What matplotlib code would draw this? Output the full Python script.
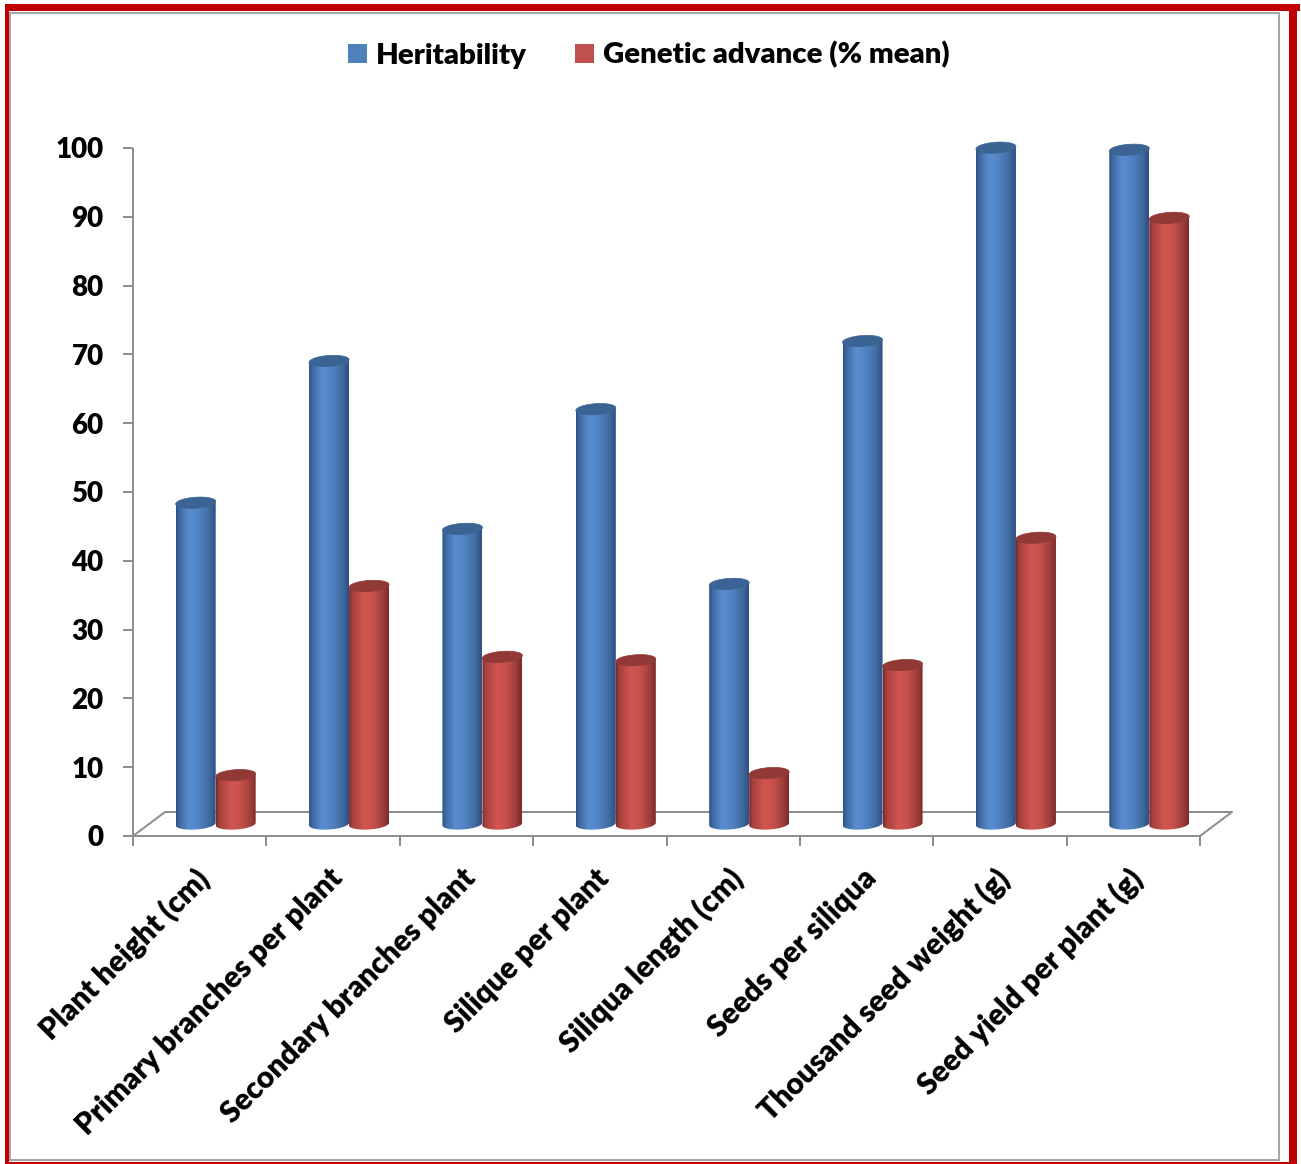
import numpy as np
import matplotlib
matplotlib.use("Agg")
import matplotlib.pyplot as plt
from matplotlib.path import Path
from matplotlib.patches import PathPatch, Patch, Rectangle
from matplotlib.colors import LinearSegmentedColormap
from matplotlib.transforms import ScaledTranslation

# ---- data ----
traits = [
    "Plant height (cm)",
    "Primary branches per plant",
    "Secondary branches plant",
    "Silique per plant",
    "Siliqua length (cm)",
    "Seeds per siliqua",
    "Thousand seed weight (g)",
    "Seed yield per plant (g)",
]
heritability = [46.7, 67.3, 42.9, 60.3, 34.9, 70.2, 98.3, 98.0]
genetic_advance = [7.1, 34.6, 24.3, 23.8, 7.4, 23.1, 41.6, 88.1]
yticks = list(range(0, 101, 10))

# ---- figure ----
W, H, DPI = 1301, 1164, 100
fig = plt.figure(figsize=(W / DPI, H / DPI), dpi=DPI)
plt.rcParams["font.family"] = ["Lato", "DejaVu Sans"]
WEIGHT = "heavy"

# plotting area: front floor edge 133..1200 px, value 0 at y=836 px, 100 at y=148 px
x_l, x_r, y_b, y_t = 133, 1200, 836, 148
ax = fig.add_axes([x_l / W, 1 - y_b / H, (x_r - x_l) / W, (y_b - y_t) / H])
n = len(traits)
ax.set_xlim(0, n)
ax.set_ylim(0, 100)
for s in ax.spines.values():
    s.set_visible(False)

px = 100 / (y_b - y_t)          # value units per pixel
ux = n / (x_r - x_l)            # category units per pixel

axis_col = "#8e8e8e"
lw_axis = 2 * 72 / DPI

# 3-D frame: depth offset of the back floor edge
dx, dy = 32 * ux, 24 * px
frame = dict(color=axis_col, lw=lw_axis, clip_on=False, zorder=1, solid_capstyle="butt")
ax.plot([0, n], [0, 0], **frame)
ax.plot([0, 0], [0, 100], **frame)
ax.plot([0, dx, n + dx, n], [0, dy, dy, 0], **frame)

# ticks
ax.set_yticks(yticks)
ax.set_yticklabels([str(v) for v in yticks], fontsize=20, fontweight=WEIGHT)
ax.tick_params(axis="y", length=10 * 72 / DPI, width=lw_axis, color=axis_col, pad=14)
ax.set_xticks(np.arange(n) + 0.5)
ax.set_xticks(np.arange(n + 1), minor=True)
ax.set_xticklabels(traits, fontsize=21.5, fontweight=WEIGHT, rotation=45,
                   ha="right", va="top", rotation_mode="anchor")
ax.tick_params(axis="x", which="major", length=0, pad=20)
ax.tick_params(axis="x", which="minor", length=10 * 72 / DPI, width=lw_axis, color=axis_col)
nudge = ScaledTranslation(-5 / DPI, 0, fig.dpi_scale_trans)
for lab in ax.get_xticklabels():
    lab.set_transform(lab.get_transform() + nudge)

# ---- cylinders ----
blue_stops = [(0.0, "#2c4f7d"), (0.08, "#3d68a0"), (0.33, "#5a8ed0"),
              (0.55, "#5385c6"), (0.85, "#3f6a9e"), (1.0, "#2d4f7c")]
red_stops = [(0.0, "#782725"), (0.08, "#a53f3c"), (0.38, "#d15650"),
             (0.6, "#c8514c"), (0.85, "#a03e3b"), (1.0, "#7b2a28")]
cmap_b = LinearSegmentedColormap.from_list("cyl_b", blue_stops)
cmap_r = LinearSegmentedColormap.from_list("cyl_r", red_stops)
cap_b, cap_r = "#3b6494", "#913936"

bar_w = 40 * ux
base = dy / 2                    # bars stand midway into the floor depth
shift = dx / 2
ell_h = 11 * px                  # visible height of the elliptic caps
tilt = 1.3 * px
grad = np.linspace(0, 1, 256).reshape(1, -1)
t = np.linspace(0, 2 * np.pi, 120)


def ellipse_pts(cx, cy, a, b, tt):
    return np.column_stack([cx + a * np.cos(tt), cy + b * np.sin(tt) + tilt * np.cos(tt)])


def cylinders(xc, vals, cmap, cap, z):
    rects = ax.bar(xc, vals, width=bar_w, bottom=base, color="none",
                   edgecolor="none", zorder=z)
    a, b = bar_w / 2, ell_h / 2
    for r in rects:
        x0, w = r.get_x(), r.get_width()
        y0, top = r.get_y(), r.get_y() + r.get_height()
        cx = x0 + w / 2
        # body: rectangle with a rounded lower edge
        tb = np.linspace(np.pi, 2 * np.pi, 60)
        bottom = ellipse_pts(cx, y0, a, b, tb)
        verts = np.vstack([[x0, top - tilt], bottom, [x0 + w, top + tilt], [x0, top - tilt]])
        body = PathPatch(Path(verts, closed=True), facecolor="none", edgecolor="none",
                         zorder=z, clip_on=False)
        ax.add_patch(body)
        im = ax.imshow(grad, cmap=cmap, extent=(x0, x0 + w, y0 - b - tilt, top + tilt),
                       aspect="auto", zorder=z, interpolation="bilinear")
        im.set_clip_box(fig.bbox)
        im.set_clip_path(body)
        # top cap
        capv = ellipse_pts(cx, top, a, b, t)
        ax.add_patch(PathPatch(Path(capv, closed=True), facecolor=cap,
                               edgecolor=cap, lw=0.5, zorder=z + 0.1, clip_on=False))


xs = np.arange(n) + 0.5 + shift
cylinders(xs - 0.5 * bar_w, heritability, cmap_b, cap_b, 3)
cylinders(xs + 0.5 * bar_w, genetic_advance, cmap_r, cap_r, 4)
ax.set_xlim(0, n)
ax.set_ylim(0, 100)

# ---- legend ----
handles = [Patch(facecolor="#4f81bd", edgecolor="none", label="Heritability"),
           Patch(facecolor="#c0504d", edgecolor="none", label="Genetic advance (% mean)")]
leg = fig.legend(handles=handles, loc="center", bbox_to_anchor=(648.5 / W, 1 - 55 / H),
                 ncol=2, frameon=False, handlelength=0.64, handleheight=0.64,
                 handletextpad=0.3, columnspacing=1.65,
                 prop={"family": ["Lato", "DejaVu Sans"], "weight": WEIGHT, "size": 21.2})

# ---- borders ----
def frect(x0, y0, x1, y1, **kw):
    fig.patches.append(Rectangle((x0 / W, 1 - y1 / H), (x1 - x0) / W, (y1 - y0) / H,
                                 transform=fig.transFigure, figure=fig, **kw))

frect(9.5, 12.5, 1278.5, 1160, facecolor="none", edgecolor="#a6a6a6", lw=2 * 72 / DPI)
red = "#c00000"
frect(5, 4, 1300, 11, facecolor=red, edgecolor="none")
frect(1289, 4, 1297, 1164, facecolor=red, edgecolor="none")
frect(5, 4, 8.5, 1164, facecolor=red, edgecolor="none")
frect(5, 1161.5, 1297, 1164, facecolor=red, edgecolor="none")

fig.savefig("out.png", dpi=DPI, facecolor="white")
